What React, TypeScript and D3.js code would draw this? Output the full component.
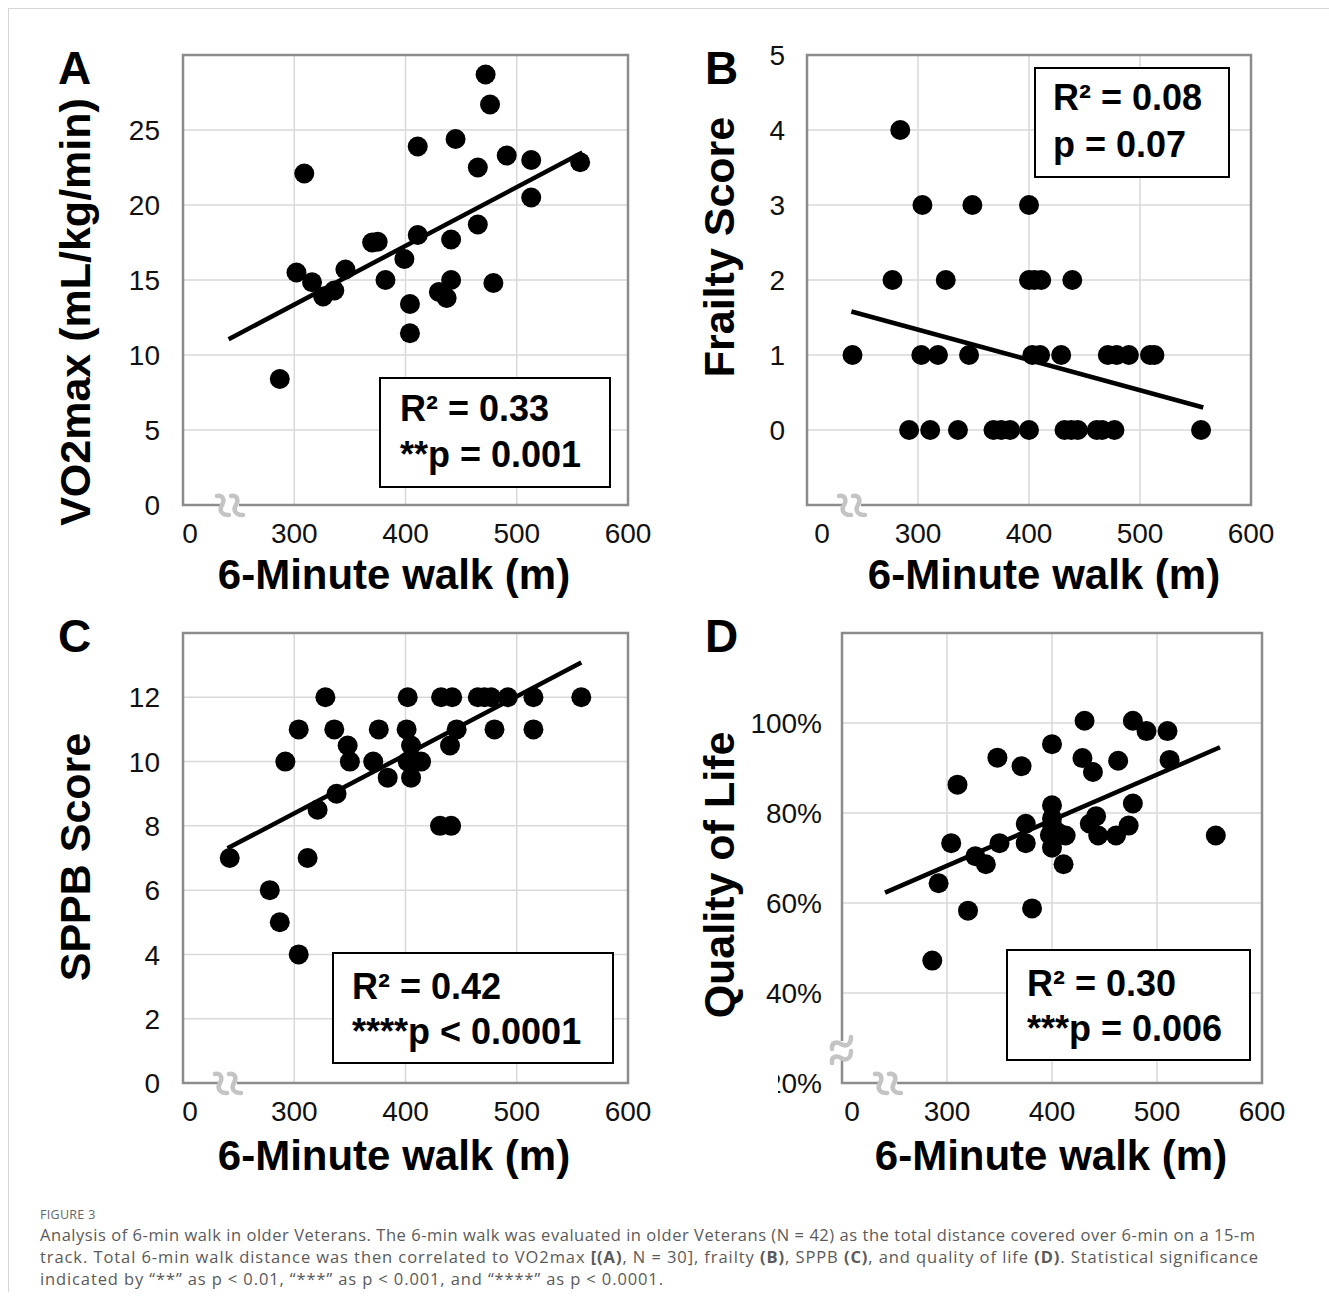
import React from 'react';
import * as d3 from 'd3';

// shared x axis (axis starts at 200 m but the first label reads "0")
const xTicks = [200, 300, 400, 500, 600];
const xTickLabels = ['0', '300', '400', '500', '600'];

// A: VO2max
const walkA = [287, 309, 302, 316, 326, 336, 346, 370, 375, 382, 399, 404, 404, 411, 411, 430, 437, 441, 441, 445, 465, 465, 472, 476, 479, 491, 513, 513, 557];
const vo2A = [8.4, 22.1, 15.5, 14.85, 13.9, 14.3, 15.7, 17.5, 17.55, 15.0, 16.4, 13.4, 11.45, 23.9, 18.0, 14.2, 13.8, 15.0, 17.7, 24.4, 22.5, 18.7, 28.7, 26.7, 14.8, 23.3, 23.0, 20.5, 22.85];
const trendWalkA = [241, 559];
const trendVo2A = [11.05, 23.5];

// B: frailty
const walkB = [284, 304, 349, 400, 277, 325, 400, 405, 411, 439, 241, 303, 318, 346, 403, 410, 429, 471, 479, 490, 509, 513, 292, 311, 336, 368, 375, 383, 400, 432, 438, 444, 461, 466, 477, 555];
const frailB = [4, 3, 3, 3, 2, 2, 2, 2, 2, 2, 1, 1, 1, 1, 1, 1, 1, 1, 1, 1, 1, 1, 0, 0, 0, 0, 0, 0, 0, 0, 0, 0, 0, 0, 0, 0];
const trendWalkB = [240, 557];
const trendFrailB = [1.58, 0.3];

// C: SPPB
const walkC = [242, 278, 287, 304, 312, 321, 292, 304, 328, 336, 338, 348, 350, 371, 376, 384, 402, 401, 405, 402, 410, 405, 414, 432, 442, 431, 441, 440, 446, 465, 471, 477, 492, 480, 515, 515, 558];
const sppbC = [7, 6, 5, 4, 7, 8.5, 10, 11, 12, 11, 9, 10.5, 10, 10, 11, 9.5, 12, 11, 10.5, 10, 10, 9.5, 10, 12, 12, 8, 8, 10.5, 11, 12, 12, 12, 12, 11, 12, 11, 12];
const trendWalkC = [240, 558];
const trendSppbC = [7.3, 13.08];

// D: quality of life (%)
const walkD = [286, 292, 304, 310, 320, 327, 337, 348, 350, 371, 375, 375, 381, 400, 400, 400, 398, 400, 406, 413, 411, 400, 431, 429, 439, 436, 442, 444, 463, 461, 473, 477, 477, 490, 510, 512, 556];
const qolD = [47.2, 64.4, 73.3, 86.3, 58.3, 70.4, 68.6, 92.3, 73.3, 90.4, 77.6, 73.3, 58.8, 95.3, 81.7, 78.8, 75.1, 72.3, 75.6, 75.0, 68.6, 77.2, 100.5, 92.2, 89.1, 77.6, 79.3, 75.0, 91.6, 75.0, 77.2, 82.1, 100.5, 98.2, 98.2, 91.8, 75.0];
const trendWalkD = [241, 560];
const trendQolD = [62.3, 94.6];

const FONT = '"Liberation Sans", Arial, Helvetica, sans-serif';

function BreakMark({ cx, cy, rotate = 0 }: { cx: number; cy: number; rotate?: number }) {
  const s = 'M-6,-10 C0,-11 2,-6 -1,-1 C-4,4 -2,9 6,9';
  return (
    <g transform={`translate(${cx},${cy}) rotate(${rotate})`}>
      <rect x={-9} y={-3} width={18} height={6} fill="#fff" />
      <path d={s} transform="translate(-7,0)" fill="none" stroke="#c4c4c4" strokeWidth={4.5} strokeLinecap="round" />
      <path d={s} transform="translate(7,0)" fill="none" stroke="#c4c4c4" strokeWidth={4.5} strokeLinecap="round" />
    </g>
  );
}

type PanelProps = {
  id: string;
  left: number; right: number; top: number; bottom: number;
  xs: number[]; ys: number[];
  trendX: number[]; trendY: number[];
  yDomain: [number, number];
  yTicks: number[];
  yGrid: number[];
  yFmt: (v: number) => string;
  labelGap: number;
  zeroDx: number;
  letter: string; letterX: number; letterY: number;
  yTitle: string; yTitleX: number; yTitleY: number;
  xTitleX: number; xTitleY: number;
  box: { x: number; y: number; w: number; h: number; dx: number; dy: number[] };
  stats: string[];
  breakX: number;
  breakY?: number;
  clipLowLabel?: number;
};

function Panel(p: PanelProps) {
  const x = d3.scaleLinear().domain([200, 600]).range([p.left, p.right]);
  const y = d3.scaleLinear().domain(p.yDomain).range([p.bottom, p.top]);
  const line = d3.line<number>().x((d, i) => x(p.trendX[i])).y(d => d);
  const trendPath = line(p.trendY.map(v => y(v))) || '';
  const clipId = `clip-${p.id}`;
  return (
    <g>
      {p.clipLowLabel !== undefined && (
        <defs>
          <clipPath id={clipId}>
            <rect x={p.clipLowLabel} y={p.top - 40} width={200} height={p.bottom - p.top + 80} />
          </clipPath>
        </defs>
      )}
      {/* gridlines */}
      {xTicks.slice(1, -1).map(t => (
        <line key={'gx' + t} x1={x(t)} x2={x(t)} y1={p.top} y2={p.bottom} stroke="#d9d9d9" strokeWidth={1.5} />
      ))}
      {p.yGrid.map(t => (
        <line key={'gy' + t} x1={p.left} x2={p.right} y1={y(t)} y2={y(t)} stroke="#d9d9d9" strokeWidth={1.5} />
      ))}
      <rect x={p.left} y={p.top} width={p.right - p.left} height={p.bottom - p.top} fill="none" stroke="#8c8c8c" strokeWidth={2.5} />
      {/* points */}
      {p.xs.map((v, i) => (
        <circle key={i} cx={x(v)} cy={y(p.ys[i])} r={10} fill="#000" />
      ))}
      <path d={trendPath} stroke="#000" strokeWidth={4.5} fill="none" />
      {/* y tick labels */}
      {p.yTicks.map((t, i) => (
        <text key={'yl' + t} x={p.left - p.labelGap} y={y(t)} dy="0.36em" textAnchor="end" fontSize={28} fontFamily={FONT} fill="#111"
          clipPath={i === 0 && p.clipLowLabel !== undefined ? `url(#${clipId})` : undefined}>
          {p.yFmt(t)}
        </text>
      ))}
      {/* x tick labels */}
      {xTicks.map((t, i) => (
        <text key={'xl' + t} x={x(t) + (i === 0 ? p.zeroDx : 0)} y={p.bottom + 38} textAnchor="middle" fontSize={28} fontFamily={FONT} fill="#111">
          {xTickLabels[i]}
        </text>
      ))}
      <BreakMark cx={p.breakX} cy={p.bottom + 1} />
      {p.breakY !== undefined && <BreakMark cx={p.left} cy={p.breakY} rotate={-90} />}
      {/* titles */}
      <text x={p.letterX} y={p.letterY} fontSize={46} fontWeight="bold" fontFamily={FONT}>{p.letter}</text>
      <text transform={`translate(${p.yTitleX},${p.yTitleY}) rotate(-90)`} textAnchor="middle" fontSize={43} fontWeight="bold" fontFamily={FONT}>{p.yTitle}</text>
      <text x={p.xTitleX} y={p.xTitleY} textAnchor="middle" fontSize={42} fontWeight="bold" fontFamily={FONT}>6-Minute walk (m)</text>
      {/* stats box */}
      <rect x={p.box.x} y={p.box.y} width={p.box.w} height={p.box.h} fill="#fff" stroke="#000" strokeWidth={2} />
      {p.stats.map((s, i) => (
        <text key={'s' + i} x={p.box.x + p.box.dx} y={p.box.y + p.box.dy[i]} fontSize={36} fontWeight="bold" fontFamily={FONT}>{s}</text>
      ))}
    </g>
  );
}

const captionLines = [
  'Analysis of 6-min walk in older Veterans. The 6-min walk was evaluated in older Veterans (N = 42) as the total distance covered over 6-min on a 15-m',
];

export default function App() {
  const num = (v: number) => String(v);
  const pct = (v: number) => `${v}%`;
  const capFont = '"Open Sans", "Noto Sans", sans-serif';
  return (
    <svg width={1329} height={1311} style={{ position: 'absolute', left: 0, top: 0, background: '#fff' }}>
      <rect width={1329} height={1311} fill="#fff" />
      <line x1={8} x2={1329} y1={8.5} y2={8.5} stroke="#d6d6d6" strokeWidth={1} />
      <line x1={8.5} x2={8.5} y1={8} y2={1292} stroke="#d6d6d6" strokeWidth={1} />

      <Panel id="A" left={183} right={628} top={55} bottom={505} xs={walkA} ys={vo2A} trendX={trendWalkA} trendY={trendVo2A}
        yDomain={[0, 30]} yTicks={[0, 5, 10, 15, 20, 25]} yGrid={[5, 10, 15, 20, 25]} yFmt={num} labelGap={23} zeroDx={7}
        letter="A" letterX={58} letterY={84} yTitle="VO2max (mL/kg/min)" yTitleX={90} yTitleY={312} xTitleX={394} xTitleY={589}
        box={{ x: 380, y: 378, w: 230, h: 109, dx: 20, dy: [43, 89] }} stats={['R² = 0.33', '**p = 0.001']} breakX={230} />

      <Panel id="B" left={807} right={1251} top={55} bottom={505} xs={walkB} ys={frailB} trendX={trendWalkB} trendY={trendFrailB}
        yDomain={[-1, 5]} yTicks={[0, 1, 2, 3, 4, 5]} yGrid={[0, 1, 2, 3, 4]} yFmt={num} labelGap={22} zeroDx={15}
        letter="B" letterX={705} letterY={84} yTitle="Frailty Score" yTitleX={734} yTitleY={247} xTitleX={1044} xTitleY={589}
        box={{ x: 1035, y: 68, w: 194, h: 109, dx: 18, dy: [42, 89] }} stats={['R² = 0.08', 'p = 0.07']} breakX={852} />

      <Panel id="C" left={183} right={628} top={633} bottom={1083} xs={walkC} ys={sppbC} trendX={trendWalkC} trendY={trendSppbC}
        yDomain={[0, 14]} yTicks={[0, 2, 4, 6, 8, 10, 12]} yGrid={[2, 4, 6, 8, 10, 12]} yFmt={num} labelGap={23} zeroDx={7}
        letter="C" letterX={58} letterY={652} yTitle="SPPB Score" yTitleX={90} yTitleY={857} xTitleX={394} xTitleY={1170}
        box={{ x: 333, y: 953, w: 280, h: 110, dx: 19, dy: [46, 91] }} stats={['R² = 0.42', '****p < 0.0001']} breakX={228} />

      <Panel id="D" left={842} right={1262} top={633} bottom={1083} xs={walkD} ys={qolD} trendX={trendWalkD} trendY={trendQolD}
        yDomain={[20, 120]} yTicks={[20, 40, 60, 80, 100]} yGrid={[40, 60, 80, 100]} yFmt={pct} labelGap={20} zeroDx={10}
        letter="D" letterX={705} letterY={652} yTitle="Quality of Life" yTitleX={734} yTitleY={875} xTitleX={1051} xTitleY={1170}
        box={{ x: 1007, y: 950, w: 243, h: 110, dx: 20, dy: [46, 91] }} stats={['R² = 0.30', '***p = 0.006']} breakX={888} breakY={1050}
        clipLowLabel={778} />

      {/* caption */}
      <text x={40} y={1219} fontSize={12.5} fontFamily={capFont} fill="#666" letterSpacing={0.3}>FIGURE 3</text>
      <text x={40} y={1241} fontSize={16.5} fontFamily={capFont} fill="#5a5a5a" textLength={1215} lengthAdjust="spacing">{captionLines[0]}</text>
      <text x={40} y={1263} fontSize={16.5} fontFamily={capFont} fill="#5a5a5a" textLength={1218} lengthAdjust="spacing">
        track. Total 6-min walk distance was then correlated to VO2max <tspan fontWeight="bold">[(A)</tspan>, N = 30], frailty <tspan fontWeight="bold">(B)</tspan>, SPPB <tspan fontWeight="bold">(C)</tspan>, and quality of life <tspan fontWeight="bold">(D)</tspan>. Statistical significance
      </text>
      <text x={40} y={1285} fontSize={16.5} fontFamily={capFont} fill="#5a5a5a" textLength={623} lengthAdjust="spacing">
        indicated by “**” as p &lt; 0.01, “***” as p &lt; 0.001, and “****” as p &lt; 0.0001.
      </text>
    </svg>
  );
}
